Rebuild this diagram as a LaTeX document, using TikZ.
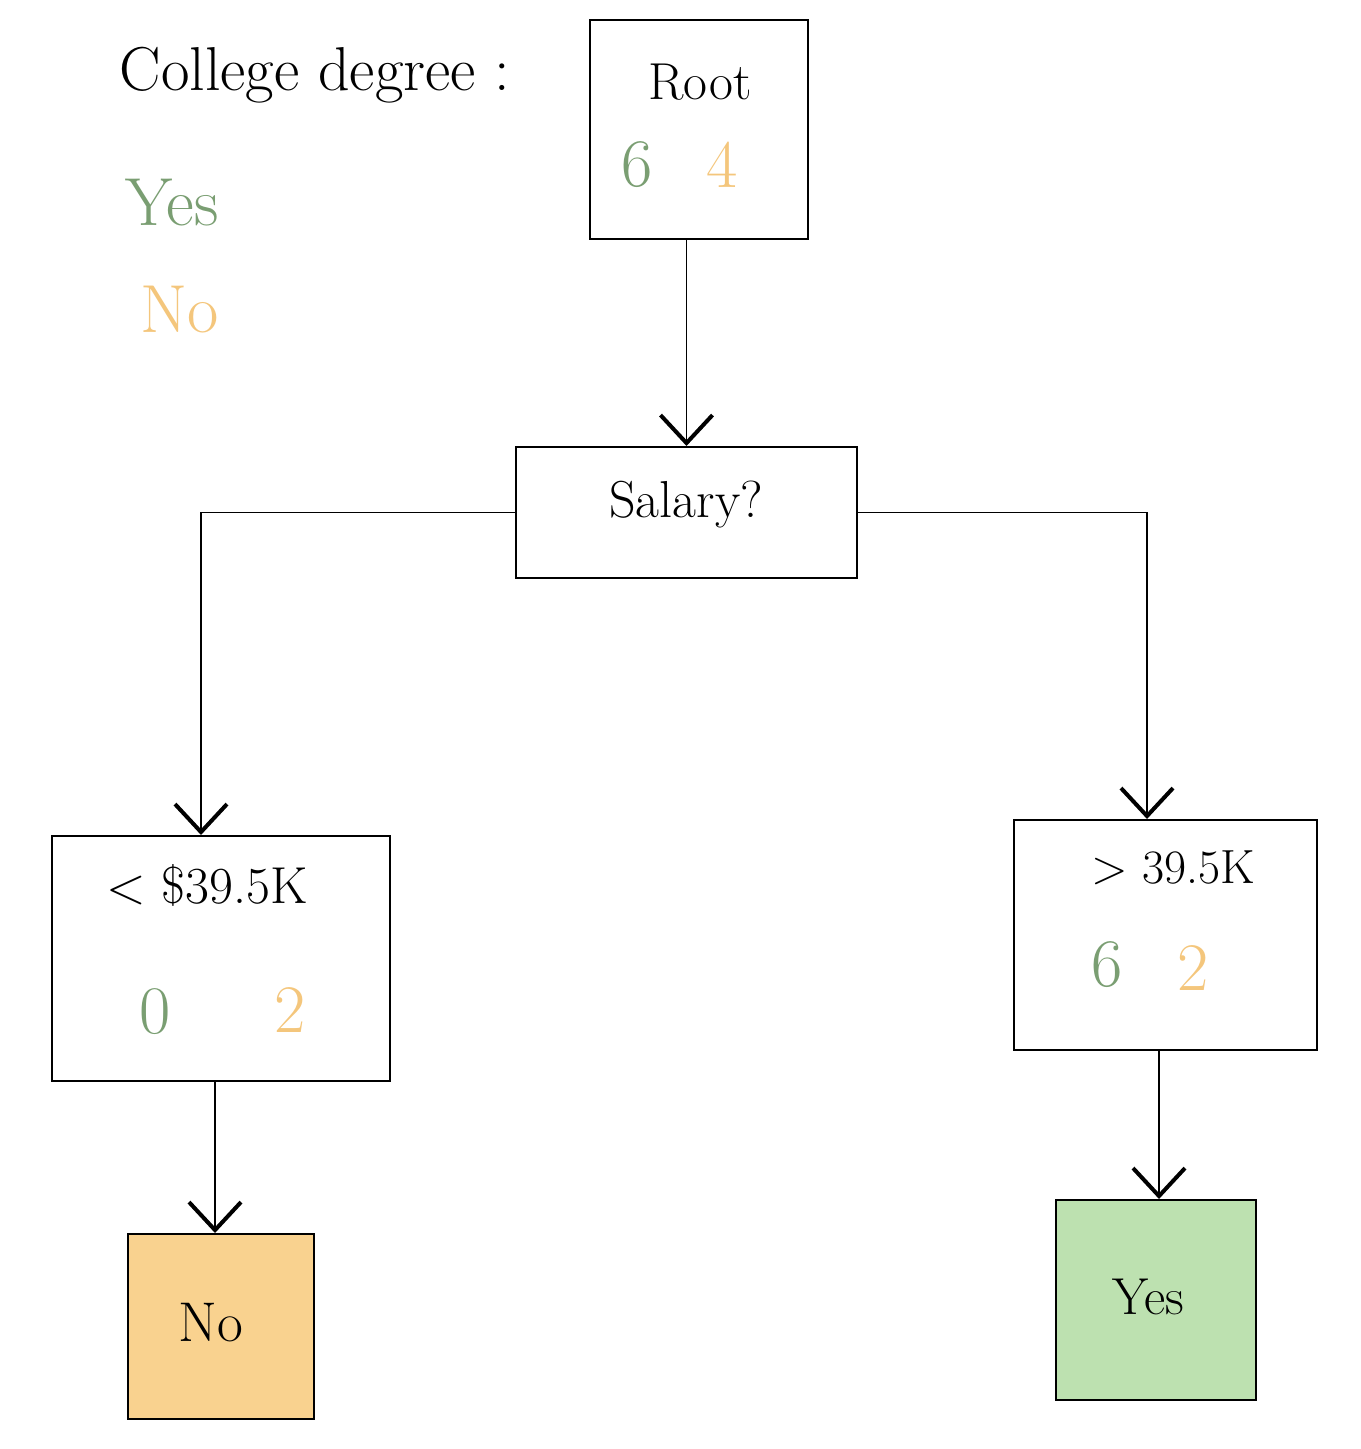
\documentclass[tikz,border=0pt]{standalone}
\usetikzlibrary{arrows.meta}
\definecolor{gtext}{HTML}{7A9E72}
\definecolor{otext}{HTML}{F4C67C}
\definecolor{ofill}{HTML}{F9D28F}
\definecolor{gfill}{HTML}{BDE1B0}
\tikzset{
  box/.style={draw=black, line width=1pt, inner sep=0pt},
  lbl/.style={inner sep=0pt, font=\fontsize{26}{30}\selectfont},
  num/.style={inner sep=0pt, font=\fontsize{34}{38}\selectfont},
  arr/.style={line width=0.9pt, -{Straight Barb[length=14pt,width=26pt,line width=2pt]}}
}
\begin{document}
\begin{tikzpicture}[x=0.5pt,y=-0.5pt]
\useasboundingbox (0,0) rectangle (1360,1449);
% boxes
\node[box, minimum width=109pt, minimum height=109.5pt] (root) at (699,129.5) {};
\node[box, minimum width=170.5pt, minimum height=65.5pt] (salary) at (686.5,512.5) {};
\node[box, minimum width=169pt, minimum height=122.5pt] (left) at (221,958.5) {};
\node[box, minimum width=151.5pt, minimum height=115pt] (right) at (1165.5,935) {};
\node[box, fill=ofill, minimum width=93pt, minimum height=92.5pt] (nobox) at (221,1326.5) {};
\node[box, fill=gfill, minimum width=100pt, minimum height=100pt] (yesbox) at (1156,1300) {};
% texts
\node[lbl, font=\fontsize{31}{35}\selectfont] (title) at (315,75) {College degree :};
\node[lbl, text=gtext, font=\fontsize{34}{38}\selectfont] (legyes) at (172,203) {Yes};
\node[lbl, text=otext, font=\fontsize{34}{38}\selectfont] (legno) at (180,310) {No};
\node[lbl] (roottxt) at (700,82) {Root};
\node[num, text=gtext] (root6) at (637,165) {6};
\node[num, text=otext] (root4) at (722,165) {4};
\node[lbl] (saltxt) at (686,505) {Salary?};
\node[lbl] (lefttxt) at (207,885) {< \$39.5K};
\node[num, text=gtext] (left0) at (155,1012) {0};
\node[num, text=otext] (left2) at (290,1010) {2};
\node[lbl, font=\fontsize{24}{28}\selectfont] (righttxt) at (1173,868) {> 39.5K};
\node[num, text=gtext] (right6) at (1107,965) {6};
\node[num, text=otext] (right2) at (1193,968) {2};
\node[lbl, font=\fontsize{28}{32}\selectfont] (notxt) at (211,1323) {No};
\node[lbl] (yestxt) at (1148,1297) {Yes};
% connectors
\draw[arr] (salary.north |- root.south) -- (salary.north);
\draw[arr] (salary.west) -| ([xshift=-10pt]left.north);
\draw[arr] (salary.east) -| ([xshift=-9.25pt]right.north);
\draw[arr] ([xshift=-3pt]left.south) -- ([xshift=-3pt]nobox.north);
\draw[arr] ([xshift=-3.25pt]right.south) -- ([xshift=-3.25pt]right.south |- yesbox.north);
\end{tikzpicture}
\end{document}
